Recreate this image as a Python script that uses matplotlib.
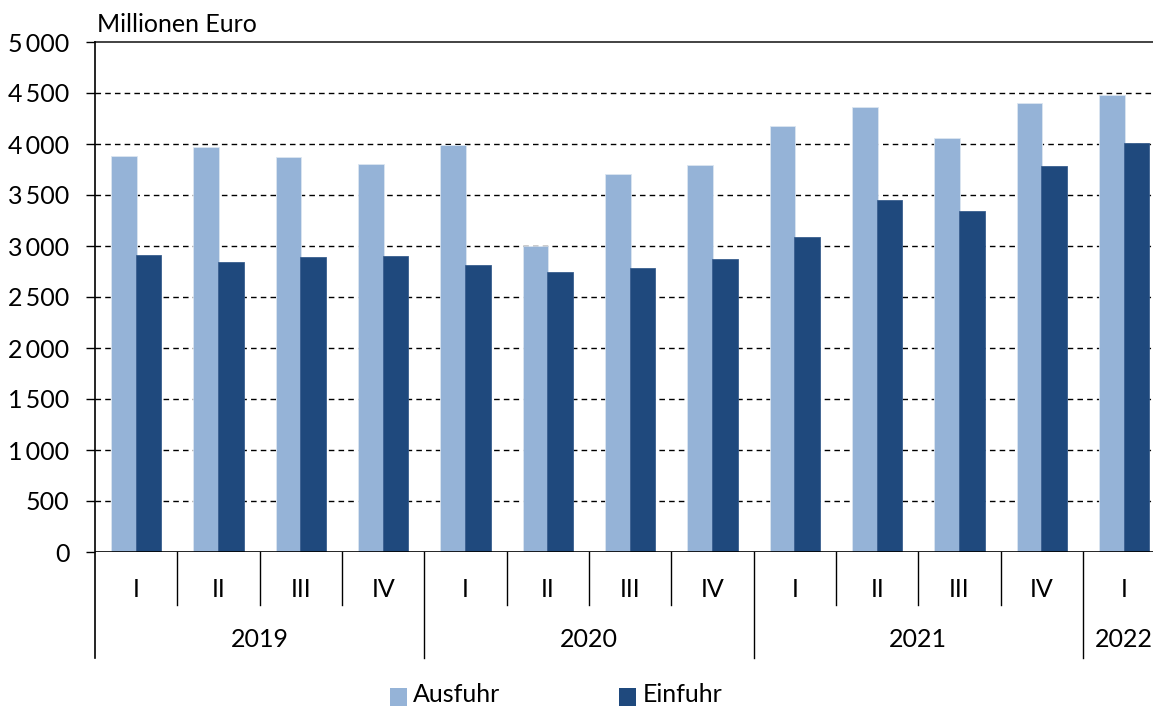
import matplotlib
matplotlib.use("Agg")
import matplotlib.pyplot as plt
from matplotlib.patches import Rectangle
import matplotlib.transforms as mtransforms

quarters = ["I", "II", "III", "IV", "I", "II", "III", "IV", "I", "II", "III", "IV", "I"]
years = ["2019", "2020", "2021", "2022"]
year_counts = [4, 4, 4, 1]
ausfuhr = [3880, 3970, 3870, 3800, 3990, 3000, 3710, 3790, 4180, 4360, 4055, 4405, 4480]
einfuhr = [2910, 2845, 2895, 2905, 2815, 2750, 2785, 2875, 3090, 3455, 3345, 3785, 4005]
yticks = [0, 500, 1000, 1500, 2000, 2500, 3000, 3500, 4000, 4500, 5000]
ytick_labels = ["0", "500", "1\u2009000", "1\u2009500", "2\u2009000", "2\u2009500", "3\u2009000",
                "3\u2009500", "4\u2009000", "4\u2009500", "5\u2009000"]
series_names = ["Ausfuhr", "Einfuhr"]

c_a = "#95B3D7"
c_e = "#1F497D"

plt.rcParams["font.family"] = ["Lato", "DejaVu Sans"]
FS = 18
W, H = 1153, 706
fig = plt.figure(figsize=(W / 100, H / 100), dpi=100)
n = len(quarters)
cw = (1083 - 95) / 12.0
ax = fig.add_axes([95 / W, (H - 552) / H, n * cw / W, 510 / H])

xs = [i + 0.5 for i in range(n)]
bw = 0.31
off = 0.15
ax.bar([x - off for x in xs], ausfuhr, width=bw, color=c_a, edgecolor="#dce6f1", linewidth=0.6, zorder=3)
ax.bar([x + off for x in xs], einfuhr, width=bw, color=c_e, edgecolor="#3a5f8f", linewidth=0.6, zorder=4)

ax.set_xlim(0, n)
ax.set_ylim(0, 5000)
ax.set_yticks(yticks)
ax.set_yticklabels(ytick_labels, fontsize=FS)
ax.tick_params(axis="y", direction="out", length=6.5, width=1, pad=12)
ax.set_xticks([])

for s in ["top", "right", "bottom", "left"]:
    ax.spines[s].set_visible(False)

for v in yticks[1:-1]:
    ax.axhline(v, color="black", linestyle=(0, (4, 3)), linewidth=1, zorder=1)
ax.axhline(5000, color="#222222", linewidth=1.2, zorder=1, clip_on=False)
ax.axhline(0, color="black", linewidth=1.2, zorder=5)

trans = mtransforms.blended_transform_factory(ax.transData, ax.transAxes)
ax.plot([0, 0], [1, -0.208], transform=trans, color="black", lw=1.2, clip_on=False, zorder=6)

year_bounds = []
acc = 0
for c in year_counts[:-1]:
    acc += c
    year_bounds.append(acc)
for i in range(1, n):
    bottom = -0.208 if i in year_bounds else -0.104
    ax.plot([i, i], [0, bottom], transform=trans, color="black", lw=1, clip_on=False)

for x, q in zip(xs, quarters):
    ax.text(x, -0.0745, q, transform=trans, ha="center", va="center", fontsize=FS)

start = 0
for y, c in zip(years, year_counts):
    ax.text(start + c / 2, -0.1725, y, transform=trans, ha="center", va="center", fontsize=FS)
    start += c

fig.text(97 / W, 1 - 24 / H, "Millionen Euro", ha="left", va="center", fontsize=FS)

# legend
for (sx, tx), col, name in zip([(390, 413), (619, 643)], [c_a, c_e], series_names):
    fig.add_artist(Rectangle((sx / W, 0), 17 / W, 18 / H, transform=fig.transFigure,
                             facecolor=col, edgecolor="none"))
    fig.text(tx / W, 1 - 695 / H, name, ha="left", va="center", fontsize=FS)

fig.savefig("out.png", dpi=100)
